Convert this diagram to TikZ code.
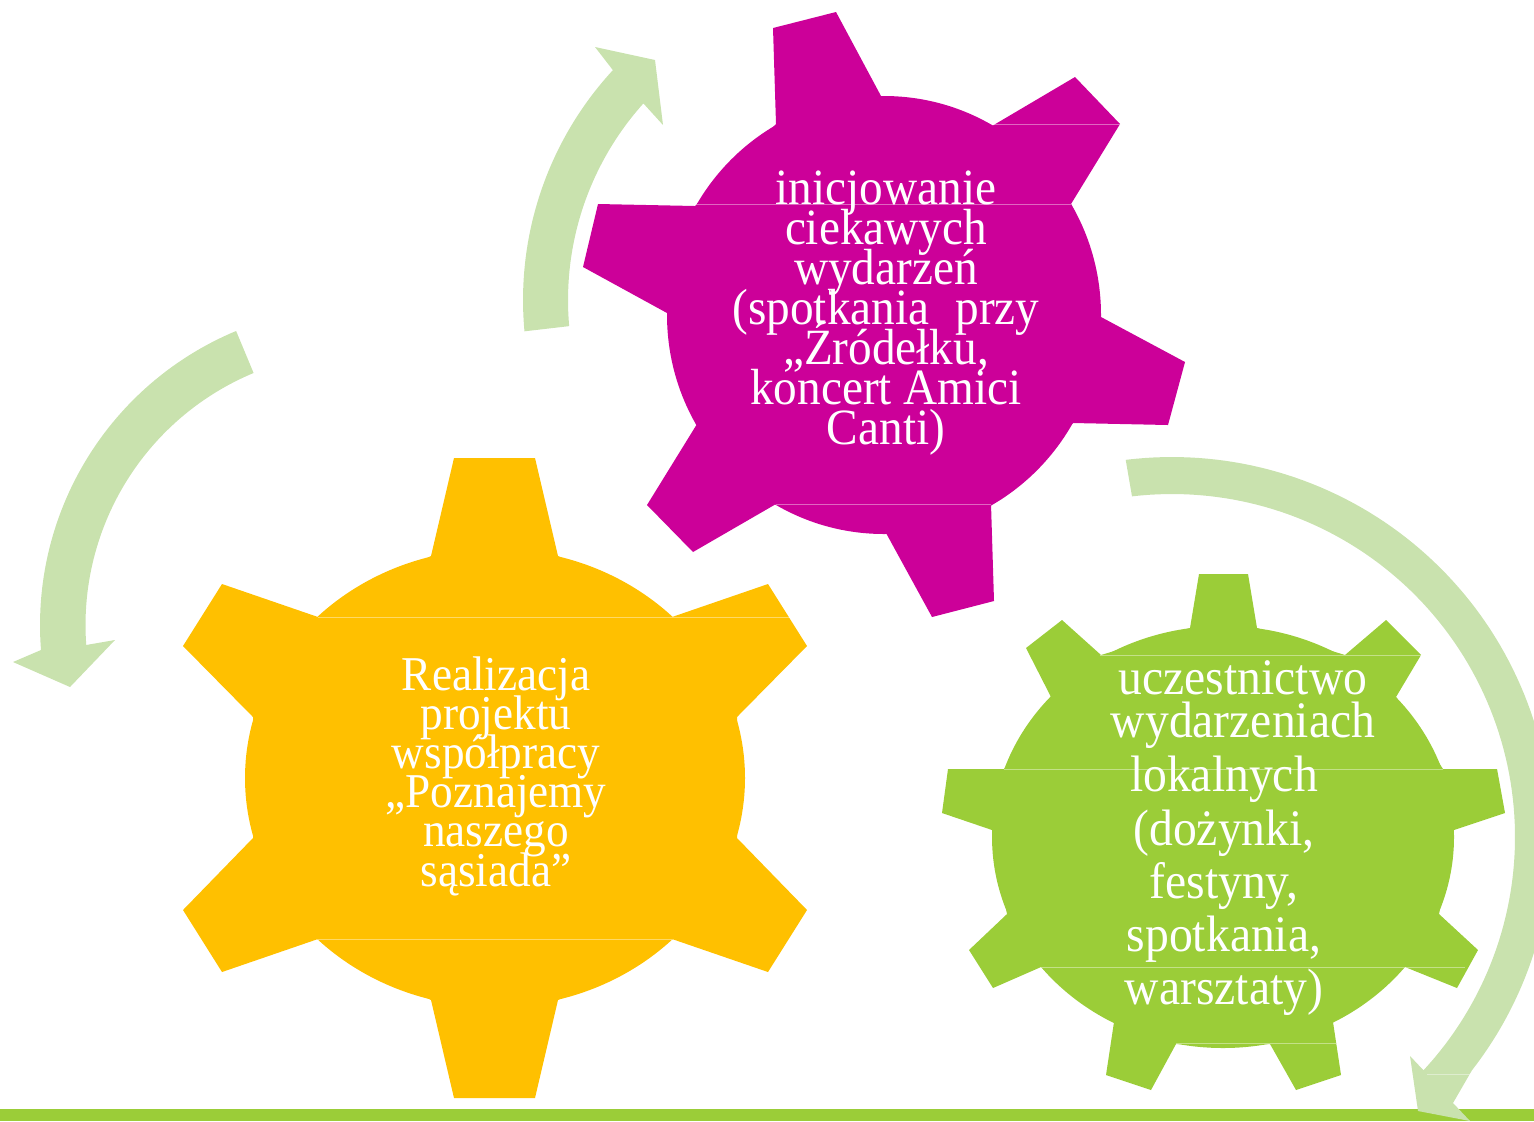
\documentclass[tikz,border=0pt]{standalone}
\usepackage{fontspec}
\setmainfont{Liberation Serif}[FakeStretch=0.93]
\definecolor{gearpink}{HTML}{CC0099}
\definecolor{gearyellow}{HTML}{FFC000}
\definecolor{geargreen}{HTML}{9BCD38}
\definecolor{arrowgreen}{HTML}{C9E2AE}
\tikzset{
  geartext/.style={text=white,align=center,inner sep=0pt},
  seam/.style={white,opacity=.4,line width=.35pt}
}
\newcommand{\gearfont}[2]{\fontsize{#1}{#2}\selectfont\lineskiplimit=-100pt\relax}
\begin{document}
\begin{tikzpicture}[x=0.5pt,y=-0.5pt]
\useasboundingbox (0,0) rectangle (1534,1121);
\clip (0,0) rectangle (1534,1121);
% bottom bar
\fill[geargreen] (0,1109) rectangle (1534,1121);
% arrows
\fill[arrowgreen] plot[domain=174.7:222.7,samples=50] ({862+339*cos(\x)},{300+339*sin(\x)})
  -- (595,47) -- (655,60) -- (663,125) -- (643,103)
  -- plot[domain=222:174.9,samples=50] ({862+294*cos(\x)},{300+294*sin(\x)}) -- cycle;
\fill[arrowgreen] plot[domain=247.4:175.5,samples=60] ({358.5+318.5*cos(\x)},{625+318.5*sin(\x)})
  -- (13,662) -- (70,687) -- (115,640) -- (86,645)
  -- plot[domain=175.8:247.4,samples=60] ({358.5+273*cos(\x)},{625+273*sin(\x)}) -- cycle;
\fill[arrowgreen] plot[domain=-97:37.9,samples=100] ({1172+380*cos(\x)},{837+380*sin(\x)})
  -- (1453,1103) -- (1470,1121) -- (1418,1111) -- (1410,1056) -- (1427,1074)
  -- plot[domain=42.9:-96.7,samples=100] ({1172+343*cos(\x)},{837+343*sin(\x)}) -- cycle;
\draw[seam] (1427,1074) -- (1476,1074);
% pink gear
\fill[gearpink] (884,315) ellipse [x radius=217, y radius=219];
\fill[gearpink] (776,124) -- (773,28) -- (836,12) -- (881,96) -- (992,126) -- (1075,77) -- (1120,124) -- (1071,204)
  -- (1101,317) -- (1185,362) -- (1168,425) -- (1073,423) -- (991,504) -- (994,601) -- (932,617) -- (886,533)
  -- (776,504) -- (693,552) -- (647,505) -- (697,424) -- (667,313) -- (583,267) -- (598,204) -- (695,206) -- cycle;
\draw[seam] (992,124.5) -- (1120,124.5);
\draw[seam] (695,204.5) -- (1071,204.5);
\draw[seam] (776,504) -- (991,504);
% yellow gear
\fill[gearyellow] (495,778) ellipse [x radius=250, y radius=229];
\fill[gearyellow] (431,556) -- (454,458) -- (535,458) -- (558,556) -- (672,617) -- (768,584) -- (807,646) -- (737,717)
  -- (737,838) -- (807,910) -- (768,972) -- (672,939) -- (558,1000) -- (535,1098) -- (454,1098) -- (431,1000)
  -- (318,939) -- (222,972) -- (183,910) -- (253,838) -- (253,717) -- (183,646) -- (222,584) -- (318,617) -- cycle;
\draw[seam] (318,617) -- (790,617);
\draw[seam] (318,939) -- (672,939);
% green gear
\fill[geargreen] (1223,837) ellipse [x radius=231, y radius=211];
\fill[geargreen] (1190,628) -- (1199,574) -- (1248,574) -- (1257,628) -- (1345,655) -- (1386,620) -- (1421,655) -- (1396,697)
  -- (1443,769) -- (1497,769) -- (1505,813) -- (1454,830) -- (1439,914) -- (1478,950) -- (1457,988) -- (1405,967)
  -- (1333,1022) -- (1341,1075) -- (1296,1090) -- (1270,1044) -- (1176,1044) -- (1151,1090) -- (1106,1075) -- (1114,1022)
  -- (1041,967) -- (993,988) -- (969,950) -- (1007,914) -- (992,830) -- (942,813) -- (948,769) -- (1004,769)
  -- (1051,697) -- (1026,648) -- (1062,620) -- (1101,655) -- cycle;
\draw[seam] (1100,655) -- (1421,655);
\draw[seam] (1004,769) -- (1443,769);
\draw[seam] (1041,967) -- (1465,967);
\draw[seam] (1176,1043.5) -- (1336,1043.5);
% labels
\node[geartext,font=\gearfont{25.4}{20}] (pinklabel) at (886,313) {inicjowanie\\ciekawych\\wydarzeń\\(spotkania\hspace{.28em} przy\\„Źródełku,\\koncert Amici\\Canti)};
\node[geartext,font=\gearfont{24.3}{19.6}] (yellowlabel) at (496,776) {Realizacja\\projektu\\współpracy\\„Poznajemy\\naszego\\sąsiada”};
\node[geartext,font=\gearfont{25.6}{21.5}] (greenlabela) at (1243,705) {uczestnictwo\\wydarzeniach};
\node[geartext,font=\gearfont{25.6}{26.6}] (greenlabelb) at (1224,886) {lokalnych\\(dożynki,\\festyny,\\spotkania,\\warsztaty)};
\end{tikzpicture}
\end{document}
